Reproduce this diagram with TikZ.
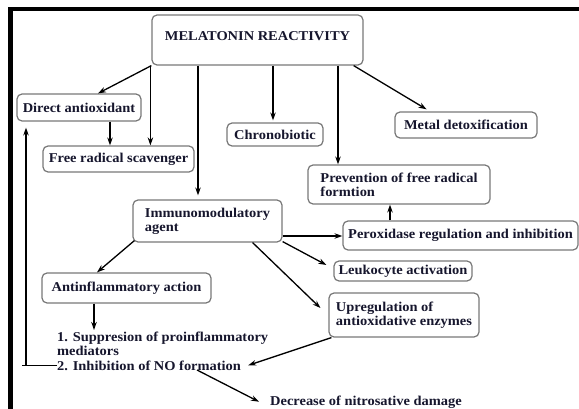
\documentclass[tikz,border=0pt]{standalone}
\usepackage{fontspec}
\setmainfont[FakeStretch=1.07]{Liberation Serif}
\usetikzlibrary{arrows.meta,calc}
\definecolor{txt}{RGB}{22,22,45}
\definecolor{bord}{RGB}{120,120,120}
\begin{document}
\begin{tikzpicture}[x=1pt,y=-1pt,
  box/.style={draw=bord,line width=1.2pt,rounded corners=5pt,fill=white,inner sep=0pt,font=\bfseries\fontsize{13.5}{14}\selectfont,text=txt},
  plain/.style={inner sep=0pt,font=\bfseries\fontsize{13.5}{14}\selectfont,text=txt},
  arr/.style={draw=black,line width=1.3pt,-{Stealth[length=8pt,width=5.5pt]}},
  ln/.style={draw=black,line width=1.3pt}]
\useasboundingbox (0,0) rectangle (579,409);
\fill[white] (0,0) rectangle (579,409);
\draw[line width=3.3pt] (8.5,9) -- (579,9);
\draw[line width=4.5pt] (10.5,7.35) -- (10.5,409);
% nodes
\node[box,minimum width=211pt,text height=26pt,text depth=24pt] (mr) at (257.5,40) {MELATONIN REACTIVITY};
\node[box,minimum width=124pt,minimum height=27pt] (da) at (79,107.5) {Direct antioxidant};
\node[box,minimum width=151pt,minimum height=26pt] (frs) at (118.5,159) {Free radical scavenger};
\node[box,minimum width=96pt,minimum height=23pt] (chr) at (275,134.5) {Chronobiotic};
\node[box,minimum width=142pt,minimum height=26pt] (md) at (466,125) {Metal detoxification};
\node[box,align=left,minimum width=182pt,minimum height=39pt] (pfr) at (399,184.5) {Prevention of free radical\\formtion};
\node[box,align=left,minimum width=149pt,minimum height=42pt] (im) at (207.5,221) {Immunomodulatory\\agent};
\node[box,minimum width=235pt,minimum height=29pt] (per) at (460.5,235.5) {Peroxidase regulation and inhibition};
\node[box,minimum width=138pt,minimum height=20pt] (leu) at (403,271) {Leukocyte activation};
\node[box,align=left,minimum width=150pt,minimum height=44pt] (up) at (404,315) {Upregulation of\\antioxidative enzymes};
\node[box,minimum width=169pt,minimum height=30pt] (anti) at (126.5,288) {Antinflammatory action};
\node[plain,align=left,anchor=north west] (sup) at (57,332) {1. Suppresion of proinflammatory\\mediators};
\node[plain,anchor=base west] (inh) at (57,370) {2. Inhibition of NO formation};
\node[plain,anchor=base west] (dec) at (270,405) {Decrease of nitrosative damage};
% connectors
\draw[arr] (mr.south west) -- ([xshift=19pt]da.north);
\draw[arr] ([xshift=-1pt]mr.south west) -- ([xshift=-1pt]mr.south west |- frs.north);
\draw[arr] ([xshift=31pt]da.south) -- ([xshift=31pt]da.south |- frs.north);
\draw[arr,shorten >=4pt] ([xshift=-59.5pt]mr.south) -- ([xshift=-59.5pt]mr.south |- im.north);
\draw[arr,shorten >=2pt] ([xshift=15.5pt]mr.south) -- ([xshift=15.5pt]mr.south |- chr.north);
\draw[arr] ([xshift=80.5pt]mr.south) -- ([xshift=80.5pt]mr.south |- pfr.north);
\draw[arr,shorten >=4pt] ([xshift=-10pt]mr.south east) -- ([xshift=-36pt]md.north);
\draw[arr] ([xshift=-70.5pt]per.north) -- ([xshift=-70.5pt]per.north |- pfr.south);
\draw[arr] ([yshift=-15pt]im.east) -- ([yshift=-15pt]im.east -| per.west);
\draw[arr] ([yshift=1pt]im.south east) -- ([xshift=-7pt,yshift=6pt]leu.west);
\draw[arr] ([xshift=-30pt]im.south east) -- ([xshift=-8pt,yshift=7pt]up.west);
\draw[arr] ([xshift=2pt,yshift=2pt]im.south west) -- ([xshift=-29.5pt]anti.north);
\draw[arr,shorten >=2pt] ([xshift=-32.5pt]anti.south) -- ([xshift=-32.5pt]anti.south |- sup.north);
\draw[arr] ([xshift=3pt]up.south west) -- ([xshift=7pt]inh.east);
\draw[arr] ([xshift=140pt]inh.base west) -- ([xshift=-11pt]dec.west);
\coordinate (fb) at ([xshift=-31pt]inh.west);
\draw[ln] (inh.west) -- ([xshift=-35pt]inh.west);
\draw[arr,shorten >=6pt] (fb) -- (fb |- da.south);
\end{tikzpicture}
\end{document}
